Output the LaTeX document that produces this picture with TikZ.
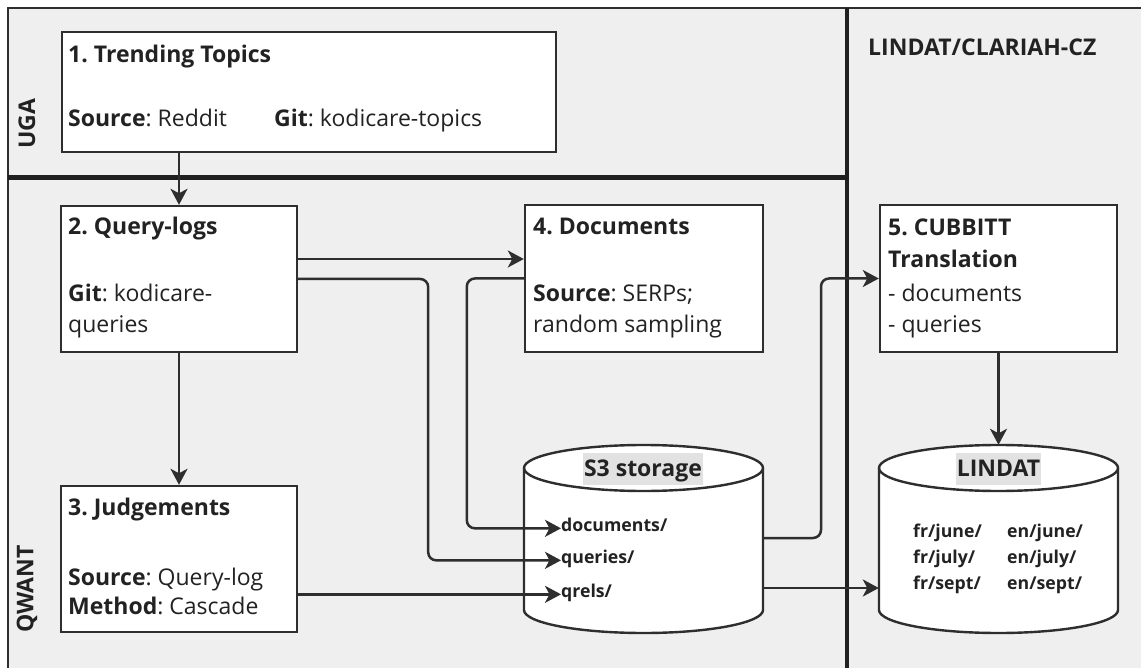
\documentclass[tikz,border=0pt]{standalone}
\usepackage{fontspec}
\setmainfont{Open Sans}
\usetikzlibrary{arrows.meta,calc}
\definecolor{bg}{HTML}{EFEFEF}
\definecolor{ln}{HTML}{2E2E2E}
\definecolor{tx}{HTML}{222222}
\definecolor{hl}{HTML}{E2E2E2}
\newcommand\drawcyl[2]{%
  \filldraw[draw=ln, line width=2.4pt, fill=white]
    (#1,468) -- (#1,610)
    arc[start angle=180, end angle=360, x radius=#2pt, y radius=23pt]
    -- ++(0,-142)
    arc[start angle=0, end angle=180, x radius=#2pt, y radius=23pt] -- cycle;
  \draw[ln, line width=2.4pt] (#1,468)
    arc[start angle=180, end angle=360, x radius=#2pt, y radius=23pt];}
\begin{document}
\frenchspacing
\begin{tikzpicture}[x=1pt,y=-1pt,
  box/.style={draw=ln, line width=2.4pt, fill=white, inner sep=0pt},
  conn/.style={draw=ln, line width=2.5pt, rounded corners=8pt},
  arr/.style={conn, -{Stealth[length=16pt,width=17pt,inset=4.5pt]}},
  txt/.style={anchor=base west, inner sep=0pt, text=tx, font=\fontsize{23}{31}\selectfont\frenchspacing},
  small/.style={anchor=base west, inner sep=0pt, text=tx, font=\fontsize{17.7}{22}\selectfont\bfseries},
  lane/.style={inner sep=0pt, text=tx, font=\fontsize{23}{26}\selectfont\bfseries, rotate=90},
  hlt/.style={fill=hl, inner xsep=1pt, inner ysep=0pt, text height=23pt, text depth=9pt, text=tx, font=\fontsize{23}{26}\selectfont\bfseries}
]
\useasboundingbox (0,0) rectangle (1141,668);
% background and frame
\fill[bg] (8,8) rectangle (1145,672);
\draw[ln, line width=2.2pt] (8,672) -- (8,8) -- (1145,8);
\draw[ln!70!black, line width=4.4pt] (8,177.5) -- (847,177.5);
\draw[ln!70!black, line width=4.4pt] (847,8) -- (847,672);
% lane labels
\node[lane] (uga) at (27,124) {UGA};
\node[lane] (qwant) at (27,589) {QWANT};
\node[anchor=base west, inner sep=0pt, text=tx, font=\fontsize{23}{26}\selectfont\bfseries] (lindatlane) at (868,56) {LINDAT/CLARIAH-CZ};
% boxes
\node[box, minimum width=494pt, minimum height=120pt] (b1) at (309,92) {};
\node[box, minimum width=236pt, minimum height=146pt] (b2) at (179,279) {};
\node[box, minimum width=236pt, minimum height=146pt] (b3) at (179,559) {};
\node[box, minimum width=238pt, minimum height=147pt] (b4) at (644,278.5) {};
\node[box, minimum width=237pt, minimum height=147pt] (b5) at (998.5,278.5) {};
% box texts
\node[txt] (t1a) at (68,63) {\textbf{1. Trending Topics}};
\node[txt] (t1b) at (68,127) {\textbf{Source}: Reddit};
\node[txt] (t1c) at (274,127) {\textbf{Git}: kodicare-topics};
\node[txt] (t2a) at (68,235) {\textbf{2. Query-logs}};
\node[txt] (t2b) at (68,302) {\textbf{Git}: kodicare-};
\node[txt] (t2c) at (68,333) {queries};
\node[txt] (t3a) at (68,515) {\textbf{3. Judgements}};
\node[txt] (t3b) at (68,585) {\textbf{Source}: Query-log};
\node[txt] (t3c) at (68,614) {\textbf{Method}: Cascade};
\node[txt] (t4a) at (533,235) {\textbf{4. Documents}};
\node[txt] (t4b) at (533,302) {\textbf{Source}: SERPs;};
\node[txt] (t4c) at (533,333) {random sampling};
\node[txt] (t5a) at (888,236) {\textbf{5. CUBBITT}};
\node[txt] (t5b) at (888,268) {\textbf{Translation}};
\node[txt] (t5c) at (888,302) {- documents};
\node[txt] (t5d) at (888,333) {- queries};
% cylinders
\drawcyl{524}{119.5}
\drawcyl{879}{119.5}
\node[minimum width=239pt, minimum height=188pt, inner sep=0pt] (s3) at (643.5,539) {};
\node[minimum width=239pt, minimum height=188pt, inner sep=0pt] (lin) at (998.5,539) {};
\node[hlt] (s3t) at (643,469) {S3 storage};
\node[hlt] (lint) at (998.5,469) {LINDAT};
\node[small] (sd) at (561,531) {documents/};
\node[small] (sq) at (561,563) {queries/};
\node[small] (sr) at (561,597) {qrels/};
\node[small] (f1) at (913,537) {fr/june/};
\node[small] (f2) at (913,563) {fr/july/};
\node[small] (f3) at (913,589) {fr/sept/};
\node[small] (e1) at (1007,537) {en/june/};
\node[small] (e2) at (1007,563) {en/july/};
\node[small] (e3) at (1007,589) {en/sept/};
\coordinate (s3a) at (763,538);
\coordinate (s3b) at (763,588);
% connectors
\draw[arr] (b2.north |- b1.south) -- (b2.north);
\draw[arr] (b2.south) -- (b3.north);
\draw[arr] ([yshift=20pt]b2.east) -- ([yshift=20pt]b2.east -| b4.west);
\draw[arr] (b2.east) -- ++(130,0) |- (sq.mid west);
\draw[arr] (b4.west) -- ++(-57,0) |- (sd.mid west);
\draw[arr] (b3.east |- sr.mid west) -- (sr.mid west);
\draw[arr] (s3a) -- ++(58,0) |- (b5.west);
\draw[arr] (s3b) -- (s3b -| lin.west);
\draw[arr] (b5.south) -- (lin.north);
\end{tikzpicture}
\end{document}
